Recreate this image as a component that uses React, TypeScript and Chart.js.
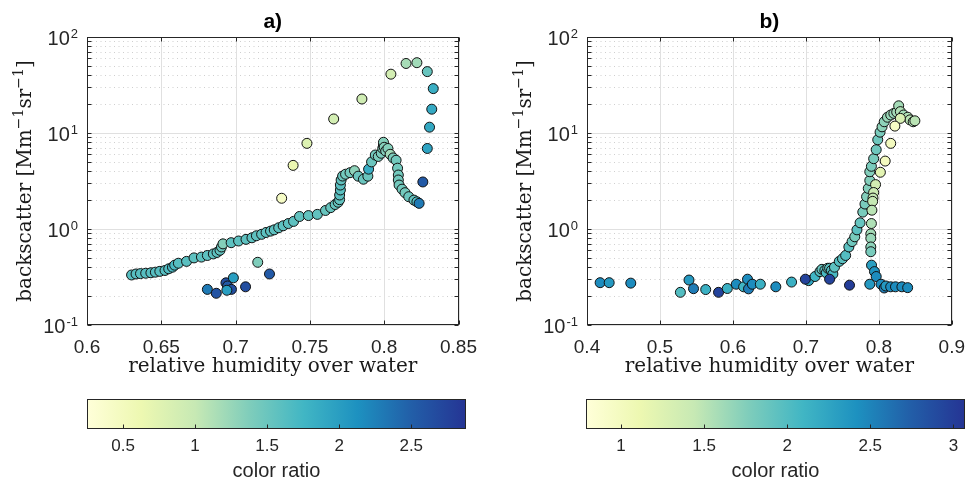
import React, { useEffect, useRef } from 'react';
import { Chart, registerables } from 'chart.js';

Chart.register(...registerables);

// ---------------- data: panel a ----------------
const aHumidity = [
  0.630, 0.633, 0.636, 0.6395, 0.643, 0.646, 0.649, 0.6525, 0.655, 0.6575, 0.659, 0.6615, 0.667, 0.672, 0.677, 0.681,
  0.685, 0.6875, 0.6895, 0.6905, 0.6915, 0.697, 0.702, 0.707, 0.711, 0.714, 0.7175, 0.7205, 0.7235, 0.726, 0.729, 0.732,
  0.7355, 0.739, 0.743, 0.749, 0.755, 0.7605, 0.764, 0.767, 0.769, 0.770, 0.770, 0.7705, 0.7705, 0.771, 0.772, 0.774,
  0.777, 0.780, 0.7825, 0.786, 0.789, 0.7895, 0.7915, 0.794, 0.796, 0.798, 0.799, 0.7995, 0.7995, 0.800, 0.801, 0.8025,
  0.804, 0.806, 0.808, 0.809, 0.8095, 0.8095, 0.810, 0.812, 0.814, 0.8165, 0.820, 0.822, 0.8235,
  0.731, 0.7387, 0.748, 0.766, 0.785, 0.8045, 0.8147, 0.822, 0.829, 0.833, 0.832, 0.8305, 0.829, 0.826,
  0.681, 0.687, 0.6935, 0.6946, 0.6972, 0.6985, 0.6941, 0.7067, 0.7149, 0.7228,
];
const aBackscatter = [
  0.332, 0.340, 0.343, 0.346, 0.350, 0.355, 0.362, 0.370, 0.385, 0.400, 0.420, 0.440, 0.460, 0.500, 0.510, 0.530,
  0.550, 0.570, 0.600, 0.650, 0.700, 0.720, 0.750, 0.780, 0.810, 0.850, 0.880, 0.920, 0.950, 0.980, 1.030, 1.080,
  1.140, 1.200, 1.350, 1.380, 1.420, 1.560, 1.670, 1.800, 1.900, 2.020, 2.260, 2.550, 2.870, 3.240, 3.560, 3.720,
  3.860, 4.050, 3.550, 3.300, 3.550, 4.200, 5.000, 5.900, 5.700, 6.150, 6.900, 7.500, 8.000, 7.100, 6.500, 6.900,
  6.000, 5.500, 5.200, 4.300, 3.650, 3.240, 2.870, 2.600, 2.390, 2.170, 2.000, 1.920, 1.850,
  2.09, 4.6, 7.8, 14.0, 22.6, 41, 53, 54, 43.6, 29, 17.7, 11.5, 6.9, 3.09,
  0.235, 0.214, 0.275, 0.255, 0.235, 0.31, 0.23, 0.25, 0.45, 0.34,
];
const aColorRatio = [
  1.62, 1.62, 1.62, 1.62, 1.62, 1.62, 1.62, 1.62, 1.65, 1.7, 1.7, 1.62, 1.6, 1.58, 1.58, 1.58,
  1.58, 1.58, 1.55, 1.5, 1.35, 1.58, 1.58, 1.58, 1.58, 1.58, 1.58, 1.58, 1.58, 1.58, 1.58, 1.58,
  1.58, 1.58, 1.55, 1.55, 1.55, 1.52, 1.52, 1.52, 1.52, 1.55, 1.6, 1.6, 1.6, 1.55, 1.5, 1.45,
  1.45, 1.3, 1.5, 1.5, 1.5, 1.85, 1.5, 1.45, 1.4, 1.4, 1.35, 1.35, 1.35, 1.35, 1.35, 1.35,
  1.2, 1.4, 1.45, 1.45, 1.45, 1.45, 1.45, 1.45, 1.45, 1.5, 1.55, 1.65, 2.3,
  0.43, 0.64, 0.78, 0.88, 0.92, 0.88, 1.17, 1.2, 1.52, 1.83, 1.88, 1.9, 1.95, 2.55,
  2.3, 2.6, 2.65, 2.55, 2.65, 2.0, 2.0, 2.65, 1.38, 2.55,
];

// ---------------- data: panel b ----------------
const bHumidity = [
  0.418, 0.4304, 0.460, 0.528, 0.5398, 0.546, 0.5627, 0.5803, 0.5923, 0.6046, 0.6147, 0.620, 0.6214, 0.6266, 0.6376,
  0.6588, 0.6804, 0.7038, 0.6993,
  0.7126, 0.7193, 0.722, 0.726, 0.728, 0.730, 0.7325, 0.735, 0.737, 0.7392, 0.7458, 0.7502, 0.7545, 0.7589, 0.7633,
  0.767, 0.770, 0.7743, 0.778, 0.781, 0.7832, 0.7855, 0.7876, 0.7876, 0.7898, 0.7929, 0.7964, 0.7985, 0.8017, 0.8044,
  0.8074, 0.8118, 0.8163, 0.8206, 0.8245, 0.8272, 0.8295, 0.8339, 0.8396, 0.8427, 0.8471, 0.8494,
  0.8295, 0.822, 0.8163, 0.8087, 0.8021, 0.7955, 0.7929, 0.792, 0.7915, 0.7905, 0.7898, 0.789, 0.789, 0.789, 0.789, 0.790,
  0.794, 0.7964, 0.803, 0.8074, 0.8096, 0.8162, 0.8228, 0.8316, 0.8395, 0.7876, 0.7325, 0.7598,
];
const bBackscatter = [
  0.276, 0.276, 0.273, 0.219, 0.294, 0.239, 0.234, 0.219, 0.240, 0.266, 0.250, 0.300, 0.238, 0.266, 0.266,
  0.250, 0.280, 0.290, 0.300,
  0.32, 0.36, 0.38, 0.37, 0.35, 0.39, 0.39, 0.37, 0.34, 0.40, 0.46, 0.49, 0.53, 0.65, 0.74,
  0.83, 0.98, 1.16, 1.50, 1.82, 2.17, 2.65, 3.2, 3.95, 4.5, 5.4, 6.7, 8.5, 10.2, 11.6,
  13.1, 14.6, 15.4, 16.0, 16.5, 19.2, 16.7, 15.4, 14.6, 13.7, 13.1, 13.4,
  14.2, 11.8, 7.8, 5.1, 3.9, 2.9, 2.4, 2.1, 1.94, 1.57, 1.14, 0.89, 0.80, 0.65, 0.58, 0.42,
  0.36, 0.32, 0.266, 0.243, 0.255, 0.25, 0.25, 0.25, 0.245, 0.266, 0.30, 0.26,
];
const bColorRatio = [
  2.45, 2.35, 2.45, 2.0, 2.35, 2.55, 2.15, 2.95, 2.15, 2.45, 2.1, 2.45, 2.55, 2.45, 2.15,
  2.45, 2.15, 2.25, 2.95,
  2.1, 2.0, 1.9, 1.95, 2.05, 1.85, 1.95, 2.0, 2.05, 1.95, 2.0, 1.95, 2.0, 1.95, 1.85,
  1.8, 1.95, 1.9, 1.8, 1.8, 1.75, 1.75, 1.75, 1.75, 1.8, 1.8, 1.85, 1.85, 1.8, 1.7,
  1.7, 1.65, 1.65, 1.65, 1.6, 1.6, 1.55, 1.6, 1.55, 1.5, 1.55, 1.5,
  1.3, 0.95, 1.0, 1.0, 1.2, 1.35, 1.4, 1.45, 1.45, 1.5, 1.55, 1.6, 1.65, 1.7, 1.8, 2.3,
  2.4, 2.45, 2.45, 2.55, 2.35, 2.45, 2.45, 2.45, 2.45, 2.35, 2.95, 3.0,
];

// ---------------- axes / ticks ----------------
const aXTicks = [0.6, 0.65, 0.7, 0.75, 0.8, 0.85];
const aXLabels = ['0.6', '0.65', '0.7', '0.75', '0.8', '0.85'];
const bXTicks = [0.4, 0.5, 0.6, 0.7, 0.8, 0.9];
const bXLabels = ['0.4', '0.5', '0.6', '0.7', '0.8', '0.9'];
const yDecades = [0.1, 1, 10, 100];
const yExponents = ['-1', '0', '1', '2'];
const aColorTicks = [0.5, 1, 1.5, 2, 2.5];
const aColorLabels = ['0.5', '1', '1.5', '2', '2.5'];
const bColorTicks = [1, 1.5, 2, 2.5, 3];
const bColorLabels = ['1', '1.5', '2', '2.5', '3'];
const aColorRange = [0.25, 2.88];
const bColorRange = [0.79, 3.07];
const YLGNBU = ['#ffffd9', '#edf8b1', '#c7e9b4', '#7fcdbb', '#41b6c4', '#1d91c0', '#225ea8', '#253494'];

const SANS = '"Liberation Sans", Arial, Helvetica, sans-serif';
const SERIF = '"DejaVu Serif", serif';
const TXT = '#262626';

function hexRgb(h: string) {
  return [parseInt(h.slice(1, 3), 16), parseInt(h.slice(3, 5), 16), parseInt(h.slice(5, 7), 16)];
}
const CMAP_RGB = YLGNBU.map(hexRgb);
function cmap(t: number) {
  const tt = Math.max(0, Math.min(1, t));
  const n = CMAP_RGB.length - 1;
  const f = tt * n;
  const i = Math.min(Math.floor(f), n - 1);
  const u = f - i;
  const a = CMAP_RGB[i], b = CMAP_RGB[i + 1];
  const c = a.map((v, k) => Math.round(v + (b[k] - v) * u));
  return `rgb(${c[0]},${c[1]},${c[2]})`;
}

type Panel = {
  title: string;
  x: number[]; y: number[]; r: number[];
  xMin: number; xMax: number; xTicks: number[]; xLabels: string[];
  cRange: number[];
  padLeft: number; padRight: number;
};

const CH_H = 390;
const PLOT_TOP = 37;
const PLOT_BOTTOM = 325;

function frameLine(ctx: CanvasRenderingContext2D, x1: number, y1: number, x2: number, y2: number) {
  ctx.beginPath();
  ctx.moveTo(x1, y1);
  ctx.lineTo(x2, y2);
  ctx.stroke();
}

function makeFramePlugin(p: Panel) {
  return {
    id: 'frame_' + p.title.replace(/\W/g, ''),
    beforeDatasetsDraw(chart: any) {
      const { ctx, chartArea: ca } = chart;
      const xs = chart.scales.x, ys = chart.scales.y;
      ctx.save();
      ctx.lineWidth = 1;
      // minor y grid (dotted)
      ctx.strokeStyle = '#cfcfcf';
      ctx.setLineDash([1, 3.5]);
      for (const d of yDecades.slice(0, -1)) {
        for (let m = 2; m <= 9; m++) {
          const py = Math.round(ys.getPixelForValue(d * m)) + 0.5;
          frameLine(ctx, ca.left, py, ca.right, py);
        }
      }
      ctx.setLineDash([]);
      ctx.strokeStyle = '#e0e0e0';
      for (const d of yDecades) {
        const py = Math.round(ys.getPixelForValue(d)) + 0.5;
        frameLine(ctx, ca.left, py, ca.right, py);
      }
      for (const v of p.xTicks) {
        const px = Math.round(xs.getPixelForValue(v)) + 0.5;
        frameLine(ctx, px, ca.top, px, ca.bottom);
      }
      ctx.restore();
    },
    afterDatasetsDraw(chart: any) {
      const { ctx, chartArea: ca } = chart;
      const xs = chart.scales.x, ys = chart.scales.y;
      const L = Math.round(ca.left) + 0.5, R = Math.round(ca.right) - 0.5;
      const T = Math.round(ca.top) + 0.5, B = Math.round(ca.bottom) - 0.5;
      ctx.save();
      ctx.strokeStyle = TXT;
      ctx.lineWidth = 1;
      ctx.strokeRect(L, T, R - L, B - T);
      const tl = 4;
      for (const v of p.xTicks) {
        const px = Math.round(xs.getPixelForValue(v)) + 0.5;
        frameLine(ctx, px, B, px, B - tl);
        frameLine(ctx, px, T, px, T + tl);
      }
      for (const d of yDecades) {
        for (let m = 1; m <= (d === 100 ? 1 : 9); m++) {
          const py = Math.round(ys.getPixelForValue(d * m)) + 0.5;
          frameLine(ctx, L, py, L + tl, py);
          frameLine(ctx, R, py, R - tl, py);
        }
      }
      // y tick labels 10^n
      ctx.fillStyle = TXT;
      yDecades.forEach((d, i) => {
        const py = ys.getPixelForValue(d);
        const rightX = ca.left - 9;
        ctx.font = `13px ${SANS}`;
        ctx.textAlign = 'right';
        ctx.textBaseline = 'alphabetic';
        const ew = ctx.measureText(yExponents[i]).width;
        ctx.fillText(yExponents[i], rightX, py + 0.5);
        ctx.font = `20px ${SANS}`;
        ctx.textBaseline = 'middle';
        ctx.fillText('10', rightX - ew - 1, py + 2.5);
      });
      // title
      ctx.fillStyle = '#000';
      ctx.font = `bold 21px ${SANS}`;
      ctx.textAlign = 'center';
      ctx.textBaseline = 'middle';
      ctx.fillText(p.title, (ca.left + ca.right) / 2, 22);
      // x axis title
      ctx.fillStyle = '#1a1a1a';
      ctx.font = `20px ${SERIF}`;
      ctx.textBaseline = 'alphabetic';
      ctx.fillText('relative humidity over water', (ca.left + ca.right) / 2, 372);
      // y axis title (rotated, with superscripts)
      ctx.translate(ca.left - 56.5, (ca.top + ca.bottom) / 2);
      ctx.rotate(-Math.PI / 2);
      const segs = [
        { t: 'backscatter [Mm', s: 20, dy: 0 },
        { t: '\u22121', s: 14, dy: -8 },
        { t: 'sr', s: 20, dy: 0 },
        { t: '\u22121', s: 14, dy: -8 },
        { t: ']', s: 20, dy: 0 },
      ];
      let total = 0;
      const widths = segs.map((sg) => {
        ctx.font = `${sg.s}px ${SERIF}`;
        const w = ctx.measureText(sg.t).width;
        total += w;
        return w;
      });
      let cx = -total / 2;
      ctx.textAlign = 'left';
      segs.forEach((sg, i) => {
        ctx.font = `${sg.s}px ${SERIF}`;
        ctx.fillText(sg.t, cx, sg.dy);
        cx += widths[i];
      });
      ctx.restore();
    },
  };
}

function makeScatter(canvas: HTMLCanvasElement, p: Panel) {
  const colors = p.r.map((v) => cmap((v - p.cRange[0]) / (p.cRange[1] - p.cRange[0])));
  const data = p.x.map((x, i) => ({ x, y: p.y[i] }));
  return new Chart(canvas, {
    type: 'scatter',
    data: {
      datasets: [
        {
          data,
          backgroundColor: colors,
          borderColor: '#111',
          borderWidth: 1,
          pointRadius: 5,
          pointHoverRadius: 5,
        },
      ],
    },
    options: {
      responsive: false,
      animation: false,
      events: [],
      layout: { padding: { top: PLOT_TOP, left: 0, right: p.padRight, bottom: 0 } },
      plugins: { legend: { display: false }, tooltip: { enabled: false }, title: { display: false } },
      scales: {
        x: {
          type: 'linear',
          min: p.xMin,
          max: p.xMax,
          grid: { display: false, drawTicks: false },
          border: { display: false },
          afterBuildTicks: (s: any) => {
            s.ticks = p.xTicks.map((v) => ({ value: v }));
          },
          afterFit: (s: any) => {
            s.height = CH_H - PLOT_BOTTOM;
          },
          ticks: {
            autoSkip: false,
            maxRotation: 0,
            padding: 11,
            color: TXT,
            font: { family: SANS, size: 19 },
            callback: (_v: any, i: number) => p.xLabels[i],
          },
        },
        y: {
          type: 'logarithmic',
          min: yDecades[0],
          max: yDecades[yDecades.length - 1],
          grid: { display: false, drawTicks: false },
          border: { display: false },
          ticks: { display: false },
          afterFit: (s: any) => {
            s.width = p.padLeft;
          },
        },
      },
    } as any,
    plugins: [makeFramePlugin(p)],
  });
}

type CB = { ticks: number[]; labels: string[]; range: number[]; padLeft: number; padRight: number };
const CB_H = 90;
const CB_TOP = 9;
const CB_BOTTOM = 39;

function makeColorbar(canvas: HTMLCanvasElement, c: CB) {
  const plugin = {
    id: 'cbar',
    beforeDatasetsDraw(chart: any) {
      const { ctx, chartArea: ca } = chart;
      const xs = chart.scales.x;
      const x0 = xs.getPixelForValue(c.range[0]);
      const x1 = xs.getPixelForValue(c.range[1]);
      ctx.save();
      const g = ctx.createLinearGradient(x0, 0, x1, 0);
      YLGNBU.forEach((col, i) => g.addColorStop(i / (YLGNBU.length - 1), col));
      ctx.fillStyle = g;
      ctx.fillRect(x0, ca.top, x1 - x0, ca.bottom - ca.top);
      ctx.strokeStyle = TXT;
      ctx.lineWidth = 1;
      const L = Math.round(x0) + 0.5, R = Math.round(x1) - 0.5;
      const T = Math.round(ca.top) + 0.5, B = Math.round(ca.bottom) - 0.5;
      ctx.strokeRect(L, T, R - L, B - T);
      for (const v of c.ticks) {
        const px = Math.round(xs.getPixelForValue(v)) + 0.5;
        frameLine(ctx, px, B, px, B - 4);
      }
      ctx.fillStyle = TXT;
      ctx.font = `20px ${SANS}`;
      ctx.textAlign = 'center';
      ctx.textBaseline = 'middle';
      ctx.fillText('color ratio', (x0 + x1) / 2, 81);
      ctx.restore();
    },
  };
  return new Chart(canvas, {
    type: 'scatter',
    data: { datasets: [{ data: [] }] },
    options: {
      responsive: false,
      animation: false,
      events: [],
      layout: { padding: { top: CB_TOP, left: c.padLeft, right: c.padRight, bottom: 0 } },
      plugins: { legend: { display: false }, tooltip: { enabled: false }, title: { display: false } },
      scales: {
        x: {
          type: 'linear',
          min: c.range[0],
          max: c.range[1],
          grid: { display: false, drawTicks: false },
          border: { display: false },
          afterBuildTicks: (s: any) => {
            s.ticks = c.ticks.map((v) => ({ value: v }));
          },
          afterFit: (s: any) => {
            s.height = CB_H - CB_BOTTOM;
          },
          ticks: {
            autoSkip: false,
            maxRotation: 0,
            padding: 7,
            color: TXT,
            font: { family: SANS, size: 17 },
            callback: (_v: any, i: number) => c.labels[i],
          },
        },
        y: { display: false, min: 0, max: 1 },
      },
    } as any,
    plugins: [plugin],
  });
}

const panelA: Panel = {
  title: 'a)', x: aHumidity, y: aBackscatter, r: aColorRatio,
  xMin: 0.6, xMax: 0.85, xTicks: aXTicks, xLabels: aXLabels, cRange: aColorRange,
  padLeft: 87, padRight: 22,
};
const panelB: Panel = {
  title: 'b)', x: bHumidity, y: bBackscatter, r: bColorRatio,
  xMin: 0.4, xMax: 0.9, xTicks: bXTicks, xLabels: bXLabels, cRange: bColorRange,
  padLeft: 99, padRight: 11,
};
const cbA: CB = { ticks: aColorTicks, labels: aColorLabels, range: aColorRange, padLeft: 87, padRight: 22 };
const cbB: CB = { ticks: bColorTicks, labels: bColorLabels, range: bColorRange, padLeft: 98, padRight: 11 };

export default function App() {
  const ra = useRef<HTMLCanvasElement>(null);
  const rb = useRef<HTMLCanvasElement>(null);
  const rca = useRef<HTMLCanvasElement>(null);
  const rcb = useRef<HTMLCanvasElement>(null);
  useEffect(() => {
    const charts = [
      makeScatter(ra.current!, panelA),
      makeScatter(rb.current!, panelB),
      makeColorbar(rca.current!, cbA),
      makeColorbar(rcb.current!, cbB),
    ];
    return () => charts.forEach((c) => c.destroy());
  }, []);
  const abs = (left: number, top: number): React.CSSProperties => ({ position: 'absolute', left, top });
  return (
    <div style={{ position: 'fixed', left: 0, top: 0, width: 976, height: 480, background: '#fff' }}>
      <canvas ref={ra} width={488} height={CH_H} style={abs(0, 0)} />
      <canvas ref={rb} width={488} height={CH_H} style={abs(488, 0)} />
      <canvas ref={rca} width={488} height={CB_H} style={abs(0, 390)} />
      <canvas ref={rcb} width={488} height={CB_H} style={abs(488, 390)} />
    </div>
  );
}
